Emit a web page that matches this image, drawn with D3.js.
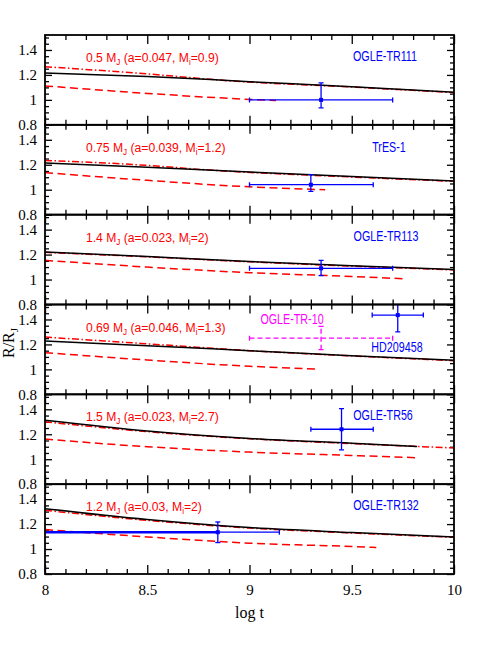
<!DOCTYPE html>
<html>
<head>
<meta charset="utf-8">
<script src="https://cdn.jsdelivr.net/npm/d3@7"></script>
<style>
  html, body { margin: 0; padding: 0; background: #fff; }
  svg { display: block; }
</style>
</head>
<body>
<svg id="plot" width="480" height="654"></svg>
<script>
// ---- data ----
const panelMass = ['0.5', '0.75', '1.4', '0.69', '1.5', '1.2'];
const panelA = ['0.047', '0.039', '0.023', '0.046', '0.023', '0.03'];
const panelMi = ['0.9', '1.2', '2', '1.3', '2.7', '2'];

// [log t, R/RJ] for each panel, top to bottom
const solidCurves = [
  [[8, 1.216], [8.5, 1.188], [9, 1.146], [9.5, 1.106], [10, 1.061]],
  [[8, 1.214], [8.5, 1.180], [9, 1.142], [9.5, 1.105], [10, 1.070]],
  [[8, 1.221], [8.5, 1.185], [9, 1.145], [9.5, 1.110], [10, 1.080]],
  [[8, 1.227], [8.5, 1.190], [9, 1.150], [9.5, 1.110], [10, 1.073]],
  [[8, 1.313], [8.5, 1.227], [9, 1.167], [9.5, 1.128], [9.82, 1.102]],
  [[8, 1.324], [8.5, 1.237], [9, 1.172], [9.5, 1.132], [10, 1.097]]
];
const dashDotCurves = [
  [[8, 1.266], [8.5, 1.208], [8.9, 1.153], [9.5, 1.103], [10, 1.058]],
  [[8, 1.235], [8.5, 1.195], [8.8, 1.158], [9.5, 1.102], [10, 1.067]],
  [[8, 1.218], [8.5, 1.182], [9, 1.142], [9.5, 1.107], [10, 1.077]],
  [[8, 1.259], [8.5, 1.205], [9, 1.150], [9.5, 1.108], [10, 1.070]],
  [[8, 1.300], [8.5, 1.221], [9, 1.164], [9.5, 1.125], [10, 1.090]],
  [[8, 1.310], [8.5, 1.230], [9, 1.168], [9.5, 1.129], [10, 1.094]]
];
const dashedCurves = [
  [[8, 1.112], [8.5, 1.052], [9, 1.004], [9.13, 0.995]],
  [[8, 1.137], [8.5, 1.075], [9, 1.023], [9.37, 1.000]],
  [[8, 1.154], [8.5, 1.100], [9, 1.055], [9.5, 1.025], [9.77, 1.005]],
  [[8, 1.134], [8.5, 1.075], [9, 1.025], [9.32, 1.003]],
  [[8, 1.161], [8.5, 1.100], [9, 1.057], [9.5, 1.030], [9.82, 1.012]],
  [[8, 1.156], [8.5, 1.097], [9, 1.047], [9.5, 1.020], [9.62, 1.012]]
];

// observed planets: log t (best, low, high), R/RJ (best, low, high)
const planets = [
  {panel: 0, name: 'OGLE-TR111', kind: 'obs', t: 9.35, tLo: 9.0, tHi: 9.70, r: 1.00, rLo: 0.936, rHi: 1.136},
  {panel: 1, name: 'TrES-1', kind: 'obs', t: 9.30, tLo: 9.0, tHi: 9.605, r: 1.04, rLo: 0.987, rHi: 1.121},
  {panel: 2, name: 'OGLE-TR113', kind: 'obs', t: 9.35, tLo: 9.0, tHi: 9.70, r: 1.09, rLo: 1.032, rHi: 1.154},
  {panel: 3, name: 'OGLE-TR-10', kind: 'alt', t: 9.35, tLo: 9.0, tHi: 9.70, r: 1.25, rLo: 1.158, rHi: 1.345},
  {panel: 3, name: 'HD209458', kind: 'obs', t: 9.725, tLo: 9.60, tHi: 9.85, r: 1.435, rLo: 1.30, rHi: 1.56},
  {panel: 4, name: 'OGLE-TR56', kind: 'obs', t: 9.45, tLo: 9.30, tHi: 9.605, r: 1.24, rLo: 1.075, rHi: 1.405},
  {panel: 5, name: 'OGLE-TR132', kind: 'obs', t: 8.845, tLo: 7.5, tHi: 9.146, r: 1.135, rLo: 1.052, rHi: 1.217}
];

const xTicks = [8, 8.5, 9, 9.5, 10];
const yTicks = [0.8, 1, 1.2, 1.4];

// ---- layout ----
const plotLeft = 45, plotRight = 454, plotTop = 35, plotBottom = 574;
const nPanels = 6;
const ph = (plotBottom - plotTop) / nPanels;
const colors = {obs: '#0000ff', alt: '#ff00ff', model: '#ff0000'};
// name label anchor (x centre, offset below panel top)
const nameLabelPos = {
  'OGLE-TR111': [385, 26], 'TrES-1': [389, 27], 'OGLE-TR113': [386, 26],
  'OGLE-TR-10': [292, 19], 'HD209458': [397, 47], 'OGLE-TR56': [383, 26],
  'OGLE-TR132': [386, 26]
};
const serif = '"Liberation Serif", "DejaVu Serif", serif';
const sans = '"Liberation Sans", Arial, sans-serif';

const svg = d3.select('#plot');

const x = d3.scaleLinear().domain([8, 10]).range([plotLeft, plotRight]);
const xMinor = d3.range(80, 101).map(k => k / 10).filter(d => Math.abs(d * 2 - Math.round(d * 2)) > 1e-6);
const yMinor = d3.range(16, 31).map(k => k * 0.05).filter(d => Math.abs(d * 5 - Math.round(d * 5)) > 1e-6);

function panelY(i) {
  return d3.scaleLinear().domain([0.8, 1.52]).range([plotTop + (i + 1) * ph, plotTop + i * ph]);
}

function noDomain(g) {
  g.select('.domain').remove();
  g.selectAll('.tick line').attr('stroke', '#000').attr('stroke-width', 1.3);
}

for (let i = 0; i < nPanels; i++) {
  const y = panelY(i);
  const top = plotTop + i * ph, bottom = top + ph;
  const g = svg.append('g').attr('class', 'panel');

  const clipId = 'clip' + i;
  svg.append('clipPath').attr('id', clipId)
    .append('rect').attr('x', plotLeft).attr('y', top).attr('width', plotRight - plotLeft).attr('height', ph);

  // ticks
  const isLast = i === nPanels - 1;
  g.append('g').attr('transform', `translate(0,${bottom})`)
    .call(d3.axisBottom(x).tickValues(xTicks).tickSizeInner(-9).tickSizeOuter(0).tickPadding(10)
      .tickFormat(isLast ? (d => d) : () => ''))
    .call(noDomain)
    .call(a => a.selectAll('text').attr('font-family', serif).attr('font-size', 15).attr('fill', '#000'));
  g.append('g').attr('transform', `translate(0,${bottom})`)
    .call(d3.axisBottom(x).tickValues(xMinor).tickSizeInner(-5).tickSizeOuter(0).tickFormat(() => ''))
    .call(noDomain);
  g.append('g').attr('transform', `translate(0,${top})`)
    .call(d3.axisTop(x).tickValues(xTicks).tickSizeInner(-9).tickSizeOuter(0).tickFormat(() => ''))
    .call(noDomain);
  g.append('g').attr('transform', `translate(0,${top})`)
    .call(d3.axisTop(x).tickValues(xMinor).tickSizeInner(-5).tickSizeOuter(0).tickFormat(() => ''))
    .call(noDomain);

  g.append('g').attr('transform', `translate(${plotLeft},0)`)
    .call(d3.axisLeft(y).tickValues(yTicks).tickSizeInner(-7).tickSizeOuter(0).tickPadding(8).tickFormat(d => d))
    .call(noDomain)
    .call(a => a.selectAll('text').attr('font-family', serif).attr('font-size', 15).attr('fill', '#000'));
  g.append('g').attr('transform', `translate(${plotLeft},0)`)
    .call(d3.axisLeft(y).tickValues(yMinor).tickSizeInner(-4).tickSizeOuter(0).tickFormat(() => ''))
    .call(noDomain);
  g.append('g').attr('transform', `translate(${plotRight},0)`)
    .call(d3.axisRight(y).tickValues(yTicks).tickSizeInner(-7).tickSizeOuter(0).tickFormat(() => ''))
    .call(noDomain);
  g.append('g').attr('transform', `translate(${plotRight},0)`)
    .call(d3.axisRight(y).tickValues(yMinor).tickSizeInner(-4).tickSizeOuter(0).tickFormat(() => ''))
    .call(noDomain);

  // model curves
  const line = d3.line().x(d => x(d[0])).y(d => y(d[1])).curve(d3.curveMonotoneX);
  const curves = g.append('g').attr('clip-path', `url(#${clipId})`).attr('fill', 'none');
  curves.append('path').attr('d', line(dashedCurves[i]))
    .attr('stroke', colors.model).attr('stroke-width', 1.5).attr('stroke-dasharray', '8,4.5');
  curves.append('path').attr('d', line(dashDotCurves[i]))
    .attr('stroke', colors.model).attr('stroke-width', 1.5).attr('stroke-dasharray', '7,2.5,1.5,2.5');
  curves.append('path').attr('d', line(solidCurves[i]))
    .attr('stroke', '#000').attr('stroke-width', 1.5);

  // observed points
  const obs = g.append('g').attr('clip-path', `url(#${clipId})`);
  planets.filter(p => p.panel === i).forEach(p => {
    const c = colors[p.kind];
    const dash = p.kind === 'alt' ? '5,3' : null;
    const pg = obs.append('g').attr('stroke', c).attr('stroke-width', 1.3).attr('fill', 'none');
    const cap = 2.5;
    const clippedLeft = p.tLo < x.domain()[0];
    pg.append('line').attr('x1', x(p.tLo)).attr('x2', x(p.t)).attr('y1', y(p.r)).attr('y2', y(p.r))
      .attr('stroke-dasharray', dash).attr('stroke-width', clippedLeft ? 2.6 : 1.3);
    pg.append('line').attr('x1', x(p.t)).attr('x2', x(p.tHi)).attr('y1', y(p.r)).attr('y2', y(p.r))
      .attr('stroke-dasharray', dash);
    pg.append('line').attr('x1', x(p.t)).attr('x2', x(p.t)).attr('y1', y(p.rLo)).attr('y2', y(p.rHi))
      .attr('stroke-dasharray', dash);
    [p.tLo, p.tHi].forEach(t => pg.append('line').attr('x1', x(t)).attr('x2', x(t))
      .attr('y1', y(p.r) - cap).attr('y2', y(p.r) + cap));
    [p.rLo, p.rHi].forEach(r => pg.append('line').attr('x1', x(p.t) - cap).attr('x2', x(p.t) + cap)
      .attr('y1', y(r)).attr('y2', y(r)));
    if (p.kind === 'obs') {
      pg.append('rect').attr('x', x(p.t) - 2).attr('y', y(p.r) - 2).attr('width', 4).attr('height', 4)
        .attr('fill', c).attr('stroke', 'none');
    }
    const pos = nameLabelPos[p.name];
    g.append('text')
      .attr('transform', `translate(${pos[0]},${top + pos[1]}) scale(0.74,1)`)
      .attr('text-anchor', 'middle').attr('font-family', sans).attr('font-size', 14.5)
      .attr('fill', c).text(p.name);
  });

  // model label
  const lbl = g.append('text')
    .attr('transform', `translate(86,${top + 27}) scale(0.9,1)`)
    .attr('font-family', sans).attr('font-size', 13.5).attr('fill', colors.model);
  lbl.append('tspan').text(`${panelMass[i]} M`);
  lbl.append('tspan').attr('font-size', 9).attr('dy', 3).text('J');
  lbl.append('tspan').attr('dy', -3).text(` (a=${panelA[i]}, M`);
  lbl.append('tspan').attr('font-size', 9).attr('dy', 3).text('i');
  lbl.append('tspan').attr('dy', -3).text(`=${panelMi[i]})`);

  // frame
  g.append('rect').attr('x', plotLeft).attr('y', top).attr('width', plotRight - plotLeft).attr('height', ph)
    .attr('fill', 'none').attr('stroke', '#000').attr('stroke-width', 1.8);
}

// axis titles
svg.append('text').attr('x', x(9)).attr('y', 618).attr('text-anchor', 'middle')
  .attr('font-family', serif).attr('font-size', 16).text('log t');

const yl = svg.append('text').attr('transform', 'translate(14,343) rotate(-90)')
  .attr('text-anchor', 'middle').attr('font-family', serif).attr('font-size', 16);
yl.append('tspan').text('R/R');
yl.append('tspan').attr('font-size', 11).attr('dy', 4).text('J');
</script>
</body>
</html>
